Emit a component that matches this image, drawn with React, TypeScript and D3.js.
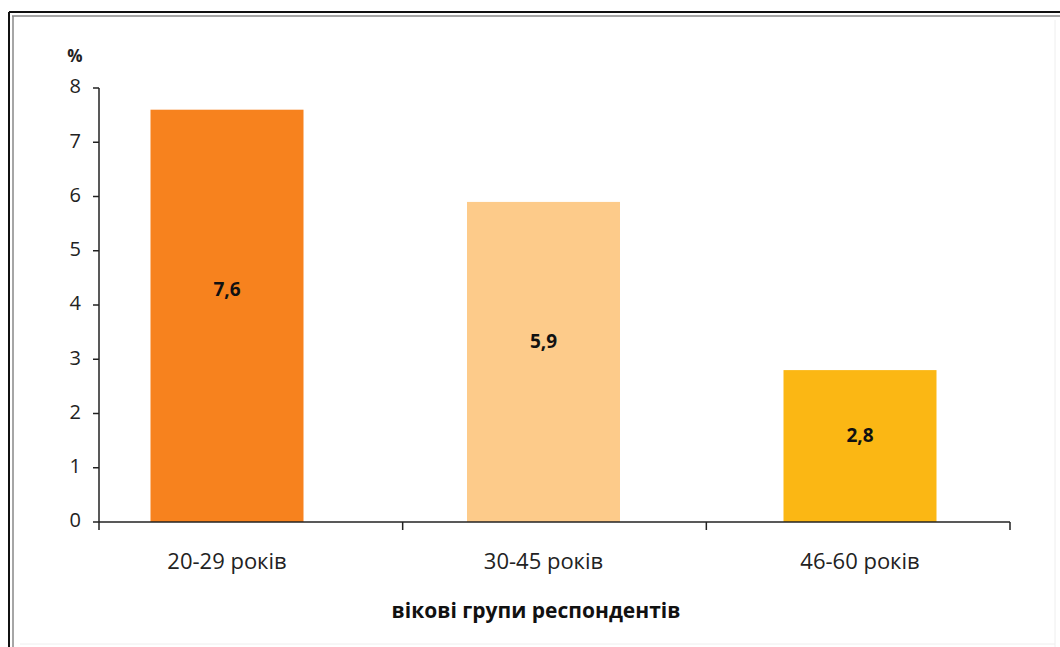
import React from "react";
import * as d3 from "d3";

const categories = ["20-29 років", "30-45 років", "46-60 років"];
const values = [7.6, 5.9, 2.8];
const valueLabels = ["7,6", "5,9", "2,8"];
const barColors = ["#F7821E", "#FDCB8A", "#FBB714"];
const yTicks = [0, 1, 2, 3, 4, 5, 6, 7, 8];
const yUnit = "%";
const xTitle = "вікові групи респондентів";

const W = 1060;
const H = 647;
const FONT = "'Open Sans', 'Noto Sans', sans-serif";

export default function App() {
  const y = d3.scaleLinear().domain([0, 8]).range([522, 88]);
  const band = d3.scaleBand<string>().domain(categories).range([99, 1010]).padding(0);
  const centers = d3.scalePoint<string>().domain(categories).range([227, 860]);
  const barW = 153;
  const boundaries = [99, ...categories.map((c) => (band(c) as number) + band.bandwidth())];

  return (
    <svg
      width={W}
      height={H}
      style={{ position: "absolute", left: 0, top: 0, background: "#fff" }}
      fontFamily={FONT}
    >
      {/* frame */}
      <line x1={9} y1={12} x2={W} y2={12} stroke="#111" strokeWidth={2} />
      <line x1={12} y1={16} x2={W} y2={16} stroke="#888" strokeWidth={1.5} />
      <line x1={9} y1={12} x2={9} y2={H} stroke="#111" strokeWidth={2} />
      <line x1={13} y1={16} x2={13} y2={H} stroke="#888" strokeWidth={1.5} />
      <line x1={1055} y1={20} x2={1055} y2={H} stroke="#eee" strokeWidth={1} />
      <line x1={20} y1={644} x2={1055} y2={644} stroke="#eee" strokeWidth={1} />

      {/* bars */}
      {categories.map((c, i) => (
        <g key={c}>
          <rect
            x={(centers(c) as number) - barW / 2}
            y={y(values[i])}
            width={barW}
            height={y(0) - y(values[i])}
            fill={barColors[i]}
          />
          <text
            x={centers(c) as number}
            y={y(values[i] * 0.56)}
            textAnchor="middle"
            dominantBaseline="middle"
            fontSize={19}
            fontWeight="bold"
            fill="#111"
          >
            {valueLabels[i]}
          </text>
        </g>
      ))}

      {/* y axis */}
      <line x1={99} y1={y(8)} x2={99} y2={y(0)} stroke="#222" strokeWidth={1.5} />
      {yTicks.map((t) => (
        <g key={t}>
          <line x1={93} y1={y(t)} x2={99} y2={y(t)} stroke="#222" strokeWidth={1.5} />
          <text
            x={81}
            y={y(t)}
            textAnchor="end"
            dominantBaseline="middle"
            fontSize={20}
            fill="#222"
          >
            {t}
          </text>
        </g>
      ))}
      <text x={75} y={57} textAnchor="middle" dominantBaseline="middle" fontSize={17} fontWeight="bold" fill="#222">
        {yUnit}
      </text>

      {/* x axis */}
      <line x1={99} y1={y(0)} x2={1010} y2={y(0)} stroke="#222" strokeWidth={1.5} />
      {boundaries.map((bx, i) => (
        <line key={i} x1={bx} y1={y(0)} x2={bx} y2={y(0) + 8} stroke="#222" strokeWidth={1.5} />
      ))}
      {categories.map((c) => (
        <text
          key={c}
          x={centers(c) as number}
          y={563}
          textAnchor="middle"
          dominantBaseline="middle"
          fontSize={22}
          fill="#222"
        >
          {c}
        </text>
      ))}
      <text x={536} y={612} textAnchor="middle" dominantBaseline="middle" fontSize={21} fontWeight="bold" fill="#111">
        {xTitle}
      </text>
    </svg>
  );
}
